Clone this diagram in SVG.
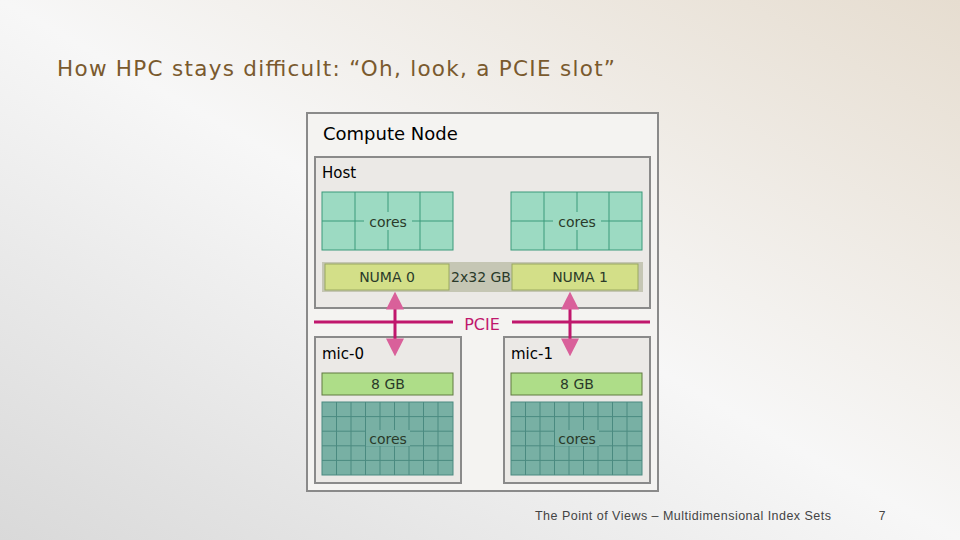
<svg xmlns="http://www.w3.org/2000/svg" width="960" height="540" viewBox="0 0 960 540">
<defs>
<linearGradient id="bg" x1="0" y1="1" x2="1" y2="0">
<stop offset="0" stop-color="#d9d9d9"/><stop offset="0.5" stop-color="#f7f7f7"/><stop offset="1" stop-color="#e6ddd0"/>
</linearGradient>
<marker id="ah" viewBox="0 0 10 10" refX="2" refY="5" markerWidth="6" markerHeight="6" orient="auto-start-reverse" markerUnits="strokeWidth"><path d="M0,0 L10,5 L0,10 z" fill="#d9609a"/></marker>
</defs>
<style>
.t{font-family:"DejaVu Sans",sans-serif;}
.box{fill:#ebe9e6;stroke:#8a8a8a;stroke-width:2}
.hc{fill:#9cdac2;stroke:#3a9a7a;stroke-width:1}
.mc{fill:#78b0a4;stroke:#4a8a80;stroke-width:1}
.numa{fill:#d3df88;stroke:#9aa860;stroke-width:1}
.gb{fill:#aedd88;stroke:#607a40;stroke-width:1}
.lbl{font-size:14px;fill:#2a3a2a;text-anchor:middle}
</style>
<rect width="960" height="540" fill="url(#bg)"/>
<text class="t" x="57" y="76" font-size="21.5" fill="#7a5a2e" textLength="558">How HPC stays difficult: “Oh, look, a PCIE slot”</text>
<g id="compute-node">
<rect x="307" y="113" width="351" height="378" fill="#f4f3f1" stroke="#8a8a8a" stroke-width="2"/>
<text class="t" x="323" y="140" font-size="18" fill="#000">Compute Node</text>
</g>
<g id="host">
<rect class="box" x="315" y="157" width="335" height="151"/>
<text class="t" x="322" y="178" font-size="15" fill="#000">Host</text>
</g>
<g id="cores-0">
<rect class="hc" x="322" y="192" width="131" height="58"/>
<path d="M355,192V250M388,192V250M420,192V250M322,221H453" stroke="#3a9a7a" fill="none"/>
<rect x="364" y="212" width="48" height="18" fill="#9cdac2"/>
<text class="t lbl" x="388" y="227">cores</text>
</g>
<g id="cores-1">
<rect class="hc" x="511" y="192" width="131" height="58"/>
<path d="M544,192V250M577,192V250M609,192V250M511,221H642" stroke="#3a9a7a" fill="none"/>
<rect x="553" y="212" width="48" height="18" fill="#9cdac2"/>
<text class="t lbl" x="577" y="227">cores</text>
</g>
<g id="memory">
<rect x="322" y="262" width="321" height="30" fill="#c5c6b4"/>
<text class="t lbl" x="481" y="282">2x32 GB</text>
</g>
<g id="numa-0"><rect class="numa" x="325" y="264" width="124" height="26"/><text class="t lbl" x="387" y="282">NUMA 0</text></g>
<g id="numa-1"><rect class="numa" x="512" y="264" width="126" height="26"/><text class="t lbl" x="580" y="282">NUMA 1</text></g>
<g id="mic-0">
<rect class="box" x="315" y="337" width="146" height="146" stroke-width="1.5"/>
<text class="t" x="322" y="359" font-size="15" fill="#000">mic-0</text>
<rect class="gb" x="322" y="373" width="131" height="22"/>
<text class="t lbl" x="388" y="389" fill="#2a4a1a">8 GB</text>
<rect class="mc" x="322" y="402" width="131" height="73"/>
<path d="M336.5,402V475M351,402V475M365.5,402V475M380,402V475M394.5,402V475M409,402V475M423.5,402V475M438,402V475M322,416.6H453M322,431.2H453M322,445.8H453M322,460.4H453" stroke="#4a8a80" fill="none"/>
<rect x="366" y="430" width="44" height="16" fill="#78b0a4"/>
<text class="t lbl" x="388" y="444" fill="#4a6a64">cores</text>
</g>
<g id="mic-1">
<rect class="box" x="504" y="337" width="146" height="146" stroke-width="1.5"/>
<text class="t" x="511" y="359" font-size="15" fill="#000">mic-1</text>
<rect class="gb" x="511" y="373" width="131" height="22"/>
<text class="t lbl" x="577" y="389" fill="#2a4a1a">8 GB</text>
<rect class="mc" x="511" y="402" width="131" height="73"/>
<path d="M525.5,402V475M540,402V475M554.5,402V475M569,402V475M583.5,402V475M598,402V475M612.5,402V475M627,402V475M511,416.6H642M511,431.2H642M511,445.8H642M511,460.4H642" stroke="#4a8a80" fill="none"/>
<rect x="555" y="430" width="44" height="16" fill="#78b0a4"/>
<text class="t lbl" x="577" y="444" fill="#4a6a64">cores</text>
</g>
<g id="connectors">
<path d="M314,322H453M512,322H650" stroke="#c0176d" stroke-width="3" fill="none"/>
<text class="t" x="482" y="330" font-size="16" fill="#c0176d" text-anchor="middle">PCIE</text>
<line x1="395" y1="306" x2="395" y2="342" stroke="#c0176d" stroke-width="3" marker-start="url(#ah)" marker-end="url(#ah)"/>
<line x1="570" y1="306" x2="570" y2="342" stroke="#c0176d" stroke-width="3" marker-start="url(#ah)" marker-end="url(#ah)"/>
</g>
<text x="683" y="520" font-size="12.5" fill="#444" text-anchor="middle" font-family="Liberation Sans,sans-serif" textLength="296">The Point of Views – Multidimensional Index Sets</text>
<text x="882" y="520" font-size="12" fill="#444" text-anchor="middle" font-family="Liberation Sans,sans-serif">7</text>
</svg>
